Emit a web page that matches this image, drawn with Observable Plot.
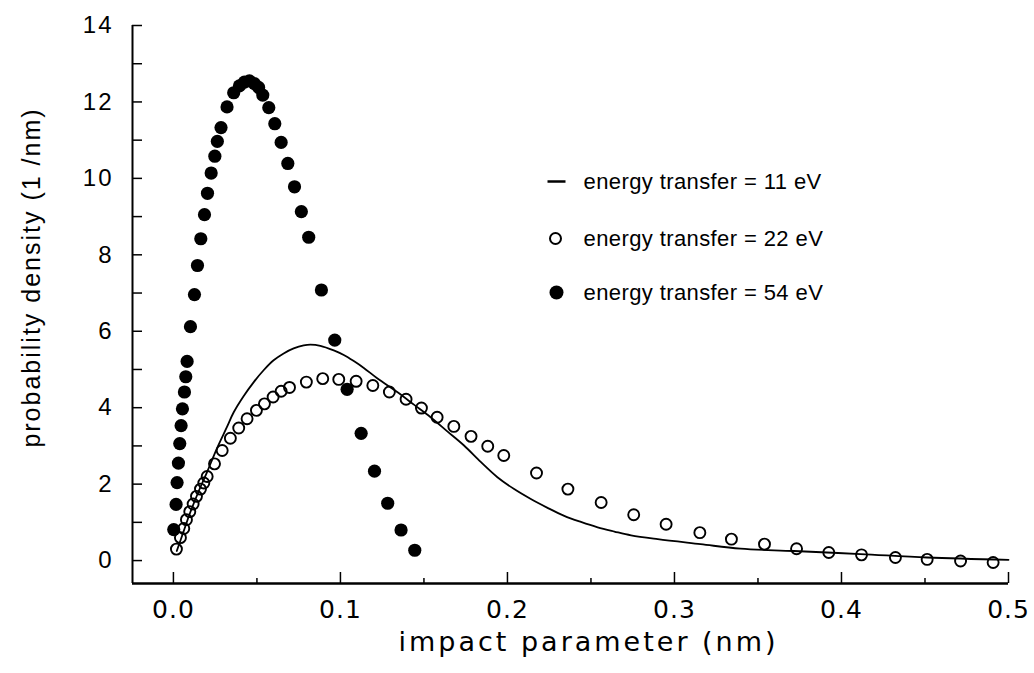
<!DOCTYPE html>
<html><head><meta charset="utf-8">
<script src="https://cdn.jsdelivr.net/npm/d3@7"></script>
<script src="https://cdn.jsdelivr.net/npm/@observablehq/plot@0.6"></script>
<style>
html,body{margin:0;padding:0;background:#fff;}
#chart{width:1034px;height:673px;}
</style></head><body><div id="chart"></div>
<script>
// ---- data ----
// energy transfer = 11 eV (solid curve)
const line11X = [0.002,0.006,0.010,0.015,0.020,0.0262,0.032,0.0361,0.042,0.0481,0.054,0.060,0.066,0.072,0.078,0.082,0.088,0.096,0.102,0.108,0.114,0.122,0.134,0.144,0.154,0.164,0.174,0.184,0.194,0.204,0.214,0.224,0.234,0.244,0.254,0.264,0.274,0.290,0.3156,0.3395,0.3715,0.4114,0.4513,0.500];
const line11Y = [0.25,0.75,1.25,1.80,2.30,2.95,3.49,3.88,4.30,4.67,4.98,5.24,5.42,5.55,5.63,5.65,5.62,5.50,5.38,5.22,5.04,4.77,4.41,4.08,3.75,3.38,3.01,2.58,2.18,1.87,1.61,1.38,1.17,1.01,0.87,0.76,0.66,0.56,0.43,0.31,0.25,0.17,0.08,0.02];
// energy transfer = 22 eV (open circles)
const open22X = [0.0018,0.0042,0.0062,0.0078,0.0098,0.0118,0.0138,0.0162,0.0182,0.0202,0.0246,0.0292,0.0341,0.0391,0.0441,0.0497,0.0545,0.0597,0.0645,0.0695,0.0796,0.0894,0.0990,0.1094,0.1194,0.1293,0.1393,0.1485,0.1579,0.1679,0.1782,0.1882,0.1978,0.2174,0.2362,0.2561,0.2756,0.2950,0.3152,0.3341,0.3539,0.3731,0.3924,0.4120,0.4323,0.4513,0.4713,0.4908];
const open22Y = [0.30,0.60,0.84,1.07,1.28,1.48,1.68,1.87,2.03,2.20,2.53,2.88,3.20,3.47,3.71,3.93,4.10,4.28,4.43,4.53,4.67,4.76,4.74,4.69,4.58,4.41,4.22,3.99,3.75,3.51,3.25,2.99,2.75,2.29,1.87,1.52,1.20,0.95,0.73,0.56,0.43,0.31,0.21,0.15,0.08,0.03,-0.01,-0.05];
// energy transfer = 54 eV (filled circles)
const filled54X = [0.0002,0.0016,0.0022,0.0030,0.0038,0.0046,0.0054,0.0066,0.0074,0.0082,0.0102,0.0126,0.0144,0.0164,0.0186,0.0204,0.0226,0.0248,0.0263,0.0285,0.0321,0.0361,0.0395,0.0425,0.0455,0.0485,0.0510,0.0535,0.0571,0.0607,0.0645,0.0685,0.0725,0.0766,0.0810,0.0886,0.0966,0.1040,0.1124,0.1204,0.1283,0.1363,0.1445];
const filled54Y = [0.81,1.47,2.04,2.55,3.06,3.53,3.97,4.41,4.81,5.21,6.12,6.96,7.72,8.42,9.05,9.61,10.14,10.58,10.97,11.33,11.87,12.24,12.42,12.52,12.55,12.48,12.38,12.18,11.85,11.43,10.94,10.39,9.78,9.13,8.46,7.08,5.77,4.48,3.33,2.34,1.50,0.80,0.27];

// ---- axes & text ----
const xDomain = [-0.0245, 0.5];
const yDomain = [-0.6, 14];
const xMajorTicks = [0, 0.1, 0.2, 0.3, 0.4, 0.5];
const xMinorTicks = [0.05, 0.15, 0.25, 0.35, 0.45];
const xTickLabels = ["0.0", "0.1", "0.2", "0.3", "0.4", "0.5"];
const yTicks = [0,1,2,3,4,5,6,7,8,9,10,11,12,13,14];
const yLabelTicks = [0,2,4,6,8,10,12,14];
const xTitle = "impact parameter (nm)";
const yTitle = "probability density (1 /nm)";
const legendLabels = ["energy transfer = 11 eV", "energy transfer = 22 eV", "energy transfer = 54 eV"];

const line11 = line11X.map((x, i) => ({x, y: line11Y[i]}));
const open22 = open22X.map((x, i) => ({x, y: open22Y[i]}));
const filled54 = filled54X.map((x, i) => ({x, y: filled54Y[i]}));

const W = 1034, H = 673;
const M = {left: 132, right: 26, top: 25, bottom: 90};
const frameW = W - M.left - M.right;
const frameH = H - M.top - M.bottom;

const dashSymbol = {draw(ctx) { ctx.moveTo(-9, 0); ctx.lineTo(9, 0); }};
const sans = "'Liberation Sans', Arial, sans-serif";
const round = "'DejaVu Sans', sans-serif";

const legendRowDy = [156, 213, 267];

const chart = Plot.plot({
  width: W, height: H,
  marginLeft: M.left, marginRight: M.right, marginTop: M.top, marginBottom: M.bottom,
  x: {domain: xDomain, label: null},
  y: {domain: yDomain, label: null},
  style: {background: "#fff", color: "#000"},
  marks: [
    Plot.ruleX([xDomain[0]], {stroke: "#000", strokeWidth: 2}),
    Plot.ruleY([yDomain[0]], {stroke: "#000", strokeWidth: 2.5}),
    // inward ticks
    Plot.tickY(yTicks, {y: (d) => d, insetRight: frameW - 10, stroke: "#000", strokeWidth: 1.5}),
    Plot.tickX(xMajorTicks, {x: (d) => d, insetTop: frameH - 11, stroke: "#000", strokeWidth: 1.5}),
    Plot.tickX(xMinorTicks, {x: (d) => d, insetTop: frameH - 5, stroke: "#000", strokeWidth: 1.5}),
    // tick labels
    Plot.axisY({ticks: yLabelTicks, tickSize: 0, tickPadding: 19, fontSize: 24, fontFamily: sans, label: null}),
    Plot.axisX({ticks: xMajorTicks, tickSize: 0, tickPadding: 17, fontSize: 25, fontFamily: round,
      tickFormat: (d) => xTickLabels[xMajorTicks.indexOf(d)], label: null}),
    // titles
    Plot.text([xTitle], {frameAnchor: "bottom", dx: 18, dy: 59, textAnchor: "middle", lineAnchor: "middle", fontSize: 27, fontFamily: round}),
    Plot.text([yTitle], {frameAnchor: "left", rotate: -90, dx: -101, dy: -27, textAnchor: "middle", lineAnchor: "middle", fontSize: 25, fontFamily: sans}),
    // data
    Plot.line(line11, {x: "x", y: "y", curve: "catmull-rom", stroke: "#000", strokeWidth: 1.8}),
    Plot.dot(open22, {x: "x", y: "y", r: 5.5, stroke: "#000", strokeWidth: 1.9, fill: "none"}),
    Plot.dot(filled54, {x: "x", y: "y", r: 6.6, fill: "#000", stroke: "none"}),
    // legend
    Plot.dot([legendLabels[0]], {frameAnchor: "top-left", dx: 424, dy: legendRowDy[0], symbol: dashSymbol, stroke: "#000", strokeWidth: 2.5, r: 5}),
    Plot.dot([legendLabels[1]], {frameAnchor: "top-left", dx: 423, dy: legendRowDy[1], r: 5.5, stroke: "#000", strokeWidth: 2, fill: "none"}),
    Plot.dot([legendLabels[2]], {frameAnchor: "top-left", dx: 424, dy: legendRowDy[2], r: 7, fill: "#000", stroke: "none"}),
    ...legendLabels.map((t, i) => Plot.text([t], {frameAnchor: "top-left", dx: 451, dy: legendRowDy[i], textAnchor: "start", lineAnchor: "middle", fontSize: 22, fontFamily: sans}))
  ]
});
document.getElementById("chart").appendChild(chart);
const svg = d3.select(chart);
svg.selectAll('g[aria-label="y-axis tick label"] text').style("letter-spacing", "2px");
svg.selectAll('g[aria-label="x-axis tick label"] text').style("letter-spacing", "1px");
svg.selectAll('g[aria-label="text"] text').each(function () {
  const t = this.textContent;
  if (t === xTitle) d3.select(this).style("letter-spacing", "3px");
  else if (t === yTitle) d3.select(this).style("letter-spacing", "2px");
  else if (legendLabels.includes(t)) d3.select(this).style("letter-spacing", "0.4px");
});
</script></body></html>
